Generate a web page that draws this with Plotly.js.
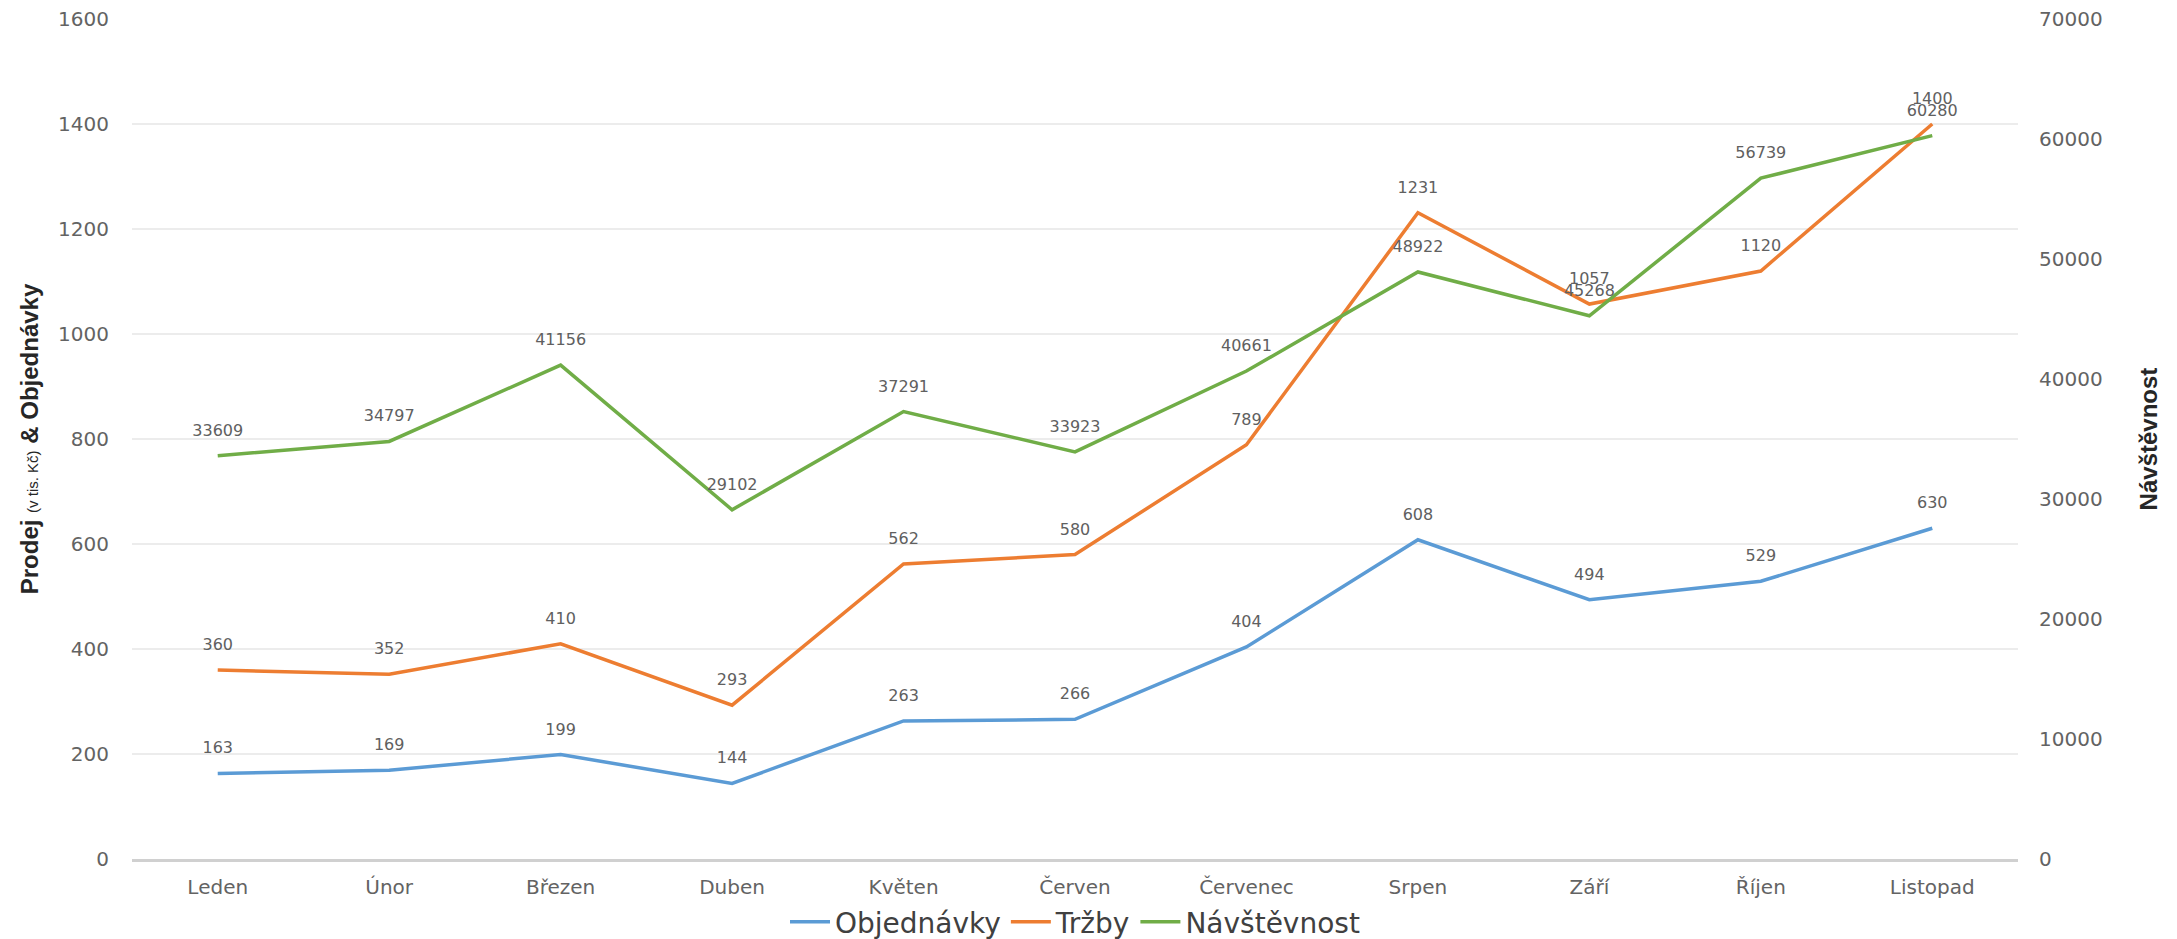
<!DOCTYPE html>
<html>
<head>
<meta charset="utf-8">
<script src="https://cdn.plot.ly/plotly-3.0.1.min.js"></script>
<style>
html,body{margin:0;padding:0;background:#fff;}
#chart{width:2177px;height:939px;}
</style>
</head>
<body>
<div id="chart"></div>
<script>
const months = ["Leden","Únor","Březen","Duben","Květen","Červen","Červenec","Srpen","Září","Říjen","Listopad"];
const objednavky = [163,169,199,144,263,266,404,608,494,529,630];
const trzby = [360,352,410,293,562,580,789,1231,1057,1120,1400];
const navstevnost = [33609,34797,41156,29102,37291,33923,40661,48922,45268,56739,60280];

const leftTicks = [0,200,400,600,800,1000,1200,1400,1600];
const rightTicks = [0,10000,20000,30000,40000,50000,60000,70000];

const labelFont = {family:"DejaVu Sans, sans-serif", size:16, color:"#606060"};

function series(name, y, color, axis){
  return {
    type:"scatter", mode:"lines+markers+text", name:name, x:months, y:y,
    yaxis:axis, text:y.map(String), textposition:"top center",
    textfont:labelFont, cliponaxis:false,
    marker:{size:24, color:"rgba(0,0,0,0)"},
    line:{color:color, width:3.5}, hoverinfo:"x+y+name"
  };
}

const data = [
  series("Objednávky", objednavky, "#5B9BD5", "y"),
  series("Tržby", trzby, "#ED7D31", "y"),
  series("Návštěvnost", navstevnost, "#70AD47", "y2")
];

const tickFont = {family:"DejaVu Sans, sans-serif", size:20, color:"#636363"};
const titleFont = {family:"Liberation Sans Narrow, Liberation Sans, sans-serif", size:24, color:"#262626"};

const layout = {
  width:2177, height:939,
  margin:{l:132, r:159, t:19, b:80},
  paper_bgcolor:"#ffffff", plot_bgcolor:"#ffffff",
  showlegend:true,
  legend:{orientation:"h", x:0.5, xanchor:"center", yref:"container", y:0.018, yanchor:"middle",
          font:{family:"DejaVu Sans, sans-serif", size:28, color:"#404040"},
          itemwidth:40, tracegroupgap:0},
  xaxis:{type:"category", categoryarray:months, range:[-0.5,10.5],
         tickfont:tickFont, showgrid:false, showline:true, linecolor:"#d0d0d0", linewidth:3,
         ticks:"", zeroline:false, fixedrange:true, ticklabelstandoff:8},
  yaxis:{range:[0,1600], tickvals:leftTicks, ticktext:leftTicks.map(String),
         tickfont:tickFont, showgrid:true, gridcolor:"#ececec", gridwidth:1.5,
         zeroline:false, showline:false, ticks:"", ticklabelstandoff:22,
         title:{text:"<b>Prodej</b> <span style='font-size:15px'>(v tis. Kč)</span> <b>& Objednávky</b>", font:titleFont, standoff:12},
         automargin:false},
  yaxis2:{range:[0,70000], tickvals:rightTicks, ticktext:rightTicks.map(String),
          overlaying:"y", side:"right", showgrid:false, zeroline:false, showline:false,
          tickfont:tickFont, ticks:"", ticklabelstandoff:20,
          title:{text:"<b>Návštěvnost</b>", font:titleFont, standoff:38},
          automargin:false}
};

Plotly.newPlot("chart", data, layout, {displayModeBar:false, staticPlot:true});
</script>
</body>
</html>
